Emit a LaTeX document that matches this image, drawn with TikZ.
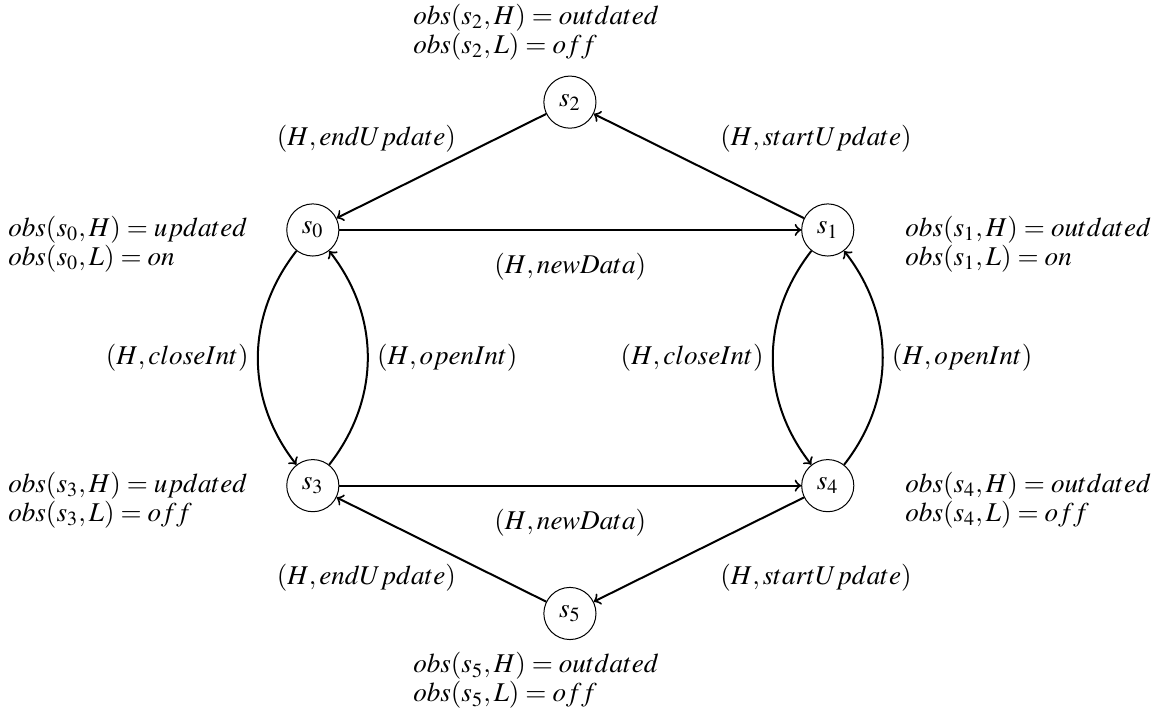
\documentclass[tikz,border=0pt]{standalone}
\usepackage{mathptmx}
\usetikzlibrary{positioning}
\tikzset{
  every node/.style={font=\fontsize{10.8}{11.6}\selectfont},
  state/.style={circle, draw, minimum size=0.73cm, inner sep=0pt},
  obs/.style={align=left, inner sep=0pt},
  trans/.style={->, thick},
}

\begin{document}
\begin{tikzpicture}[node distance=7.21cm, auto]
        \useasboundingbox (-4.38,3.22) rectangle (11.89,-6.92);
        % States
        \node[state] (s0) {$s_0$};
        \node[state] (s1) [right of=s0] {$s_1$};
        \node[state] (s3) [below of=s0, node distance=3.58cm] {$s_3$};
        \node[state] (s4) [below of=s1, node distance=3.58cm] {$s_4$};
        \node[state] (s2) at (3.6,1.79) {$s_2$};
        \node[state] (s5) at (3.6,-5.37) {$s_5$};

        % Observations
        \node[obs, anchor=east] (o0) at ([xshift=-0.91cm, yshift=-0.2cm]s0.center) {$obs(s_0,H) = updated$\\$obs(s_0,L) = on$};
        \node[obs, anchor=west] (o1) at ([xshift=1.08cm, yshift=-0.2cm]s1.center) {$obs(s_1,H) = outdated$\\$obs(s_1,L) = on$};
        \node[obs, anchor=east] (o3) at ([xshift=-0.91cm, yshift=-0.2cm]s3.center) {$obs(s_3,H) = updated$\\$obs(s_3,L) = off$};
        \node[obs, anchor=west] (o4) at ([xshift=1.08cm, yshift=-0.2cm]s4.center) {$obs(s_4,H) = outdated$\\$obs(s_4,L) = off$};
        \node[obs, anchor=west] (o2) at ([xshift=-2.2cm, yshift=0.98cm]s2.center) {$obs(s_2,H) = outdated$\\$obs(s_2,L) = off$};
        \node[obs, anchor=west] (o5) at ([xshift=-2.2cm, yshift=-0.94cm]s5.center) {$obs(s_5,H) = outdated$\\$obs(s_5,L) = off$};

        % Update cycle
        \draw[trans] (s0) -- node[swap, yshift=-0.2cm] {$(H,newData)$} (s1);
        \draw[trans] (s1) -- node[xshift=1.64cm, yshift=0.38cm, anchor=center] {$(H,startUpdate)$} (s2);
        \draw[trans] (s2) -- node[xshift=-1.05cm, yshift=0.38cm, anchor=center] {$(H,endUpdate)$} (s0);
        \draw[trans] (s3) -- node[swap, yshift=-0.2cm] {$(H,newData)$} (s4);
        \draw[trans] (s4) -- node[xshift=1.64cm, yshift=-0.39cm, anchor=center] {$(H,startUpdate)$} (s5);
        \draw[trans] (s5) -- node[xshift=-1.05cm, yshift=-0.39cm, anchor=center] {$(H,endUpdate)$} (s3);

        % Interface
        \draw[trans] (s0) to[bend right=38] node[left] {$(H,closeInt)$} (s3);
        \draw[trans] (s3) to[bend right=38] node[right] {$(H,openInt)$} (s0);
        \draw[trans] (s1) to[bend right=38] node[left] {$(H,closeInt)$} (s4);
        \draw[trans] (s4) to[bend right=38] node[right] {$(H,openInt)$} (s1);
    \end{tikzpicture}
\end{document}
